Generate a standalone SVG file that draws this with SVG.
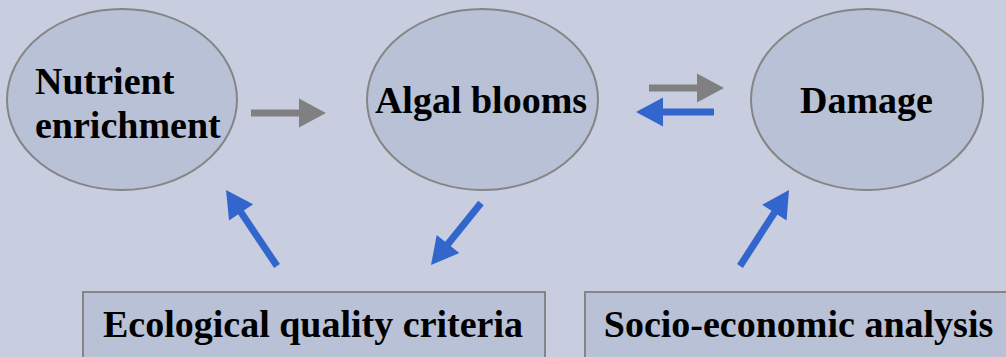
<svg xmlns="http://www.w3.org/2000/svg" width="1006" height="357" viewBox="0 0 1006 357">
<defs>
<marker id="hg" markerUnits="userSpaceOnUse" markerWidth="27" markerHeight="29" refX="10" refY="14.5" orient="auto" overflow="visible"><path d="M0,0 L27,14.5 L0,29 z" fill="#808080"/></marker>
<marker id="hb" markerUnits="userSpaceOnUse" markerWidth="27" markerHeight="29" refX="10" refY="14.5" orient="auto" overflow="visible"><path d="M0,0 L27,14.5 L0,29 z" fill="#3366cc"/></marker>
</defs>
<rect width="1006" height="357" fill="#c8cde0"/>
<g fill="#b8c1d6" stroke="#858585" stroke-width="2">
<ellipse id="nutrient-shape" cx="122" cy="99.5" rx="115" ry="90.5"/>
<ellipse id="algal-shape" cx="482.5" cy="99.5" rx="115.5" ry="90.5"/>
<ellipse id="damage-shape" cx="867" cy="99.5" rx="116" ry="90.5"/>
<rect id="ecological-shape" x="83" y="292" width="462" height="80"/>
<rect id="socio-shape" x="585" y="292" width="440" height="80"/>
</g>
<g font-family="Liberation Serif" font-weight="bold" font-size="38" fill="#000">
<g id="nutrient">
<text x="35" y="94">Nutrient</text>
<text x="35" y="138">enrichment</text>
</g>
<g id="algal"><text x="481" y="113" text-anchor="middle">Algal blooms</text></g>
<g id="damage"><text x="866.5" y="113" text-anchor="middle">Damage</text></g>
<g id="ecological"><text x="313" y="337" text-anchor="middle">Ecological quality criteria</text></g>
<g id="socio"><text x="798.5" y="337" text-anchor="middle">Socio-economic analysis</text></g>
</g>
<g id="connectors" stroke-width="7" fill="none">
<line stroke="#808080" x1="251" y1="113" x2="309" y2="113" marker-end="url(#hg)"/>
<line stroke="#808080" x1="649" y1="88" x2="707" y2="88" marker-end="url(#hg)"/>
<line stroke="#3366cc" x1="714" y1="112" x2="653" y2="112" marker-end="url(#hb)"/>
<line stroke="#3366cc" x1="277" y1="266" x2="235.5" y2="204.1" marker-end="url(#hb)"/>
<line stroke="#3366cc" x1="481" y1="203" x2="441.7" y2="251.8" marker-end="url(#hb)"/>
<line stroke="#3366cc" x1="740" y1="266" x2="779.8" y2="204.3" marker-end="url(#hb)"/>
</g>
</svg>
